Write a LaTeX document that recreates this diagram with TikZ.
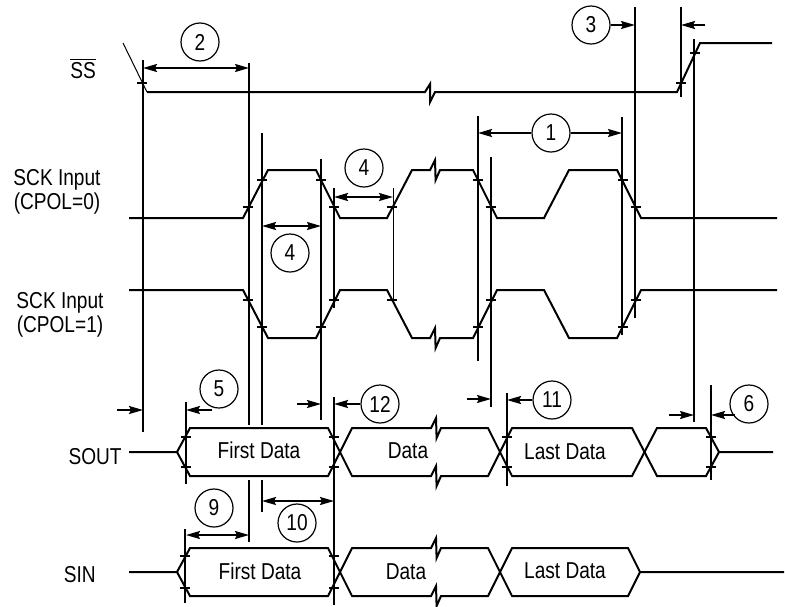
\documentclass[tikz,border=0pt]{standalone}
\usepackage{fontspec}
\setmainfont{Liberation Sans}[FakeStretch=0.83]
\usetikzlibrary{arrows.meta}

\begin{document}
\begin{tikzpicture}[x=0.5pt, y=-0.5pt,
        every node/.style={font=\fontsize{11.5}{10.7}\selectfont, inner sep=0pt},
        wave/.style={line width=1pt},
        guide/.style={line width=1.05pt},
        thinguide/.style={line width=0.5pt},
        tick/.style={line width=0.9pt},
        dim/.style={line width=0.95pt, {Stealth[length=7pt,width=4pt,inset=1pt]}-{Stealth[length=7pt,width=4pt,inset=1pt]}},
        ptr/.style={line width=0.95pt, -{Stealth[length=7pt,width=4pt,inset=1pt]}},
        tag/.style={circle, draw, line width=0.6pt, minimum size=19pt}]
    \useasboundingbox (0,0) rectangle (785,606);

    % signal names
    \node[anchor=base] (ss) at (83,78) {$\overline{\mbox{SS}}$};
    \node[align=center] (sck0) at (57,192) {SCK Input\\(CPOL=0)};
    \node[align=center] (sck1) at (60,315) {SCK Input\\(CPOL=1)};
    \node[anchor=base east] (sout) at (122,464) {SOUT};
    \node[anchor=base east] (sin) at (96,582) {SIN};

    % SS
    \draw[thinguide] (123,43) -- (147,92);
    \draw[wave] (147,92) -- (425,92) -- ++(5,-8) -- ++(0,18) -- ++(5,-10) -- (677,92) -- (700,43) -- (772,43);

    % SCK, CPOL=0 and CPOL=1
    \draw[wave] (129,218) -- (243,218) -- (268,170) -- (316,170) -- (340,218) -- (387,218) -- (412,170)
        -- (430,170) -- ++(5,-10) -- ++(0.6,20) -- ++(4.4,-10) -- (473,170) -- (497,218) -- (544,218)
        -- (569,170) -- (617,170) -- (641,218) -- (777,218);
    \draw[wave] (129,290) -- (243,290) -- (268,338) -- (316,338) -- (340,290) -- (387,290) -- (412,338)
        -- (430,338) -- ++(5,-10) -- ++(0.6,20) -- ++(4.4,-10) -- (473,338) -- (497,290) -- (544,290)
        -- (569,338) -- (617,338) -- (641,290) -- (777,290);

    % SOUT
    \draw[wave] (129,452) -- (177,452) -- (190,428) -- (328,428) -- (352,476)
        -- (431,476) -- ++(5,-10) -- ++(0.6,20) -- ++(4.4,-10) -- (488,476) -- (512,428) -- (632,428)
        -- (657,476) -- (706,476) -- (719,452) -- (773,452);
    \draw[wave] (177,452) -- (190,476) -- (328,476) -- (352,428)
        -- (431,428) -- ++(5,-10) -- ++(0.6,20) -- ++(4.4,-10) -- (488,428) -- (512,476) -- (632,476)
        -- (657,428) -- (706,428) -- (719,452);
    \node[anchor=base] (sout1) at (259,458) {First Data};
    \node[anchor=base] (sout2) at (408,458) {Data};
    \node[anchor=base] (sout3) at (565,459) {Last Data};

    % SIN
    \draw[wave] (129,572) -- (177,572) -- (190,548) -- (328,548) -- (352,596)
        -- (431,596) -- ++(5,-10) -- ++(0.6,20) -- ++(4.4,-10) -- (488,596) -- (512,548) -- (628,548)
        -- (640,572) -- (784,572);
    \draw[wave] (177,572) -- (190,596) -- (328,596) -- (352,548)
        -- (431,548) -- ++(5,-10) -- ++(0.6,20) -- ++(4.4,-10) -- (488,548) -- (512,596) -- (628,596)
        -- (640,572);
    \node[anchor=base] (sin1) at (260,579) {First Data};
    \node[anchor=base] (sin2) at (406,579) {Data};
    \node[anchor=base] (sin3) at (565,578) {Last Data};

    % timing lines
    \foreach \x/\ya/\yb in {143/60/432, 249/63/425, 249/480/542, 262/133/425, 262/480/512,
            321/159/420, 334/188/308, 334/397/605, 478/116/361, 491/157/407, 507/393/486,
            622/117/335, 635/7/318, 681/7/97, 694/39/422, 711/385/480, 186/402/484, 185/529/603}
        \draw[guide] (\x,\ya) -- (\x,\yb);
    \draw[thinguide] (393,188) -- (393,300);

    % crossing marks
    \foreach \x/\y in {142/83, 681/83, 695/53,
            248/207, 262/180, 321/180, 334/207, 392/207, 478/180, 491/207, 623/180, 636/207,
            248/300, 262/327, 321/327, 334/300, 392/300, 478/327, 491/300, 623/327, 636/300,
            186/437, 186/467, 334/437, 334/467, 507/437, 507/467, 711/437, 711/467,
            185/556, 185/588, 334/556, 334/588}
        \draw[tick] (\x,\y) +(-5,0) -- +(5,0);

    % timing numbers
    \node[tag] (t2) at (200,42) {2};
    \node[tag] (t3) at (591,25) {3};
    \node[tag] (t1) at (551,133) {1};
    \node[tag] (t4a) at (290,253) {4};
    \node[tag] (t4b) at (364,168) {4};
    \node[tag] (t5) at (219,389) {5};
    \node[tag] (t12) at (380,404) {12};
    \node[tag] (t11) at (552,400) {11};
    \node[tag] (t6) at (749,404) {6};
    \node[tag] (t9) at (214,508) {9};
    \node[tag] (t10) at (297,523) {10};

    \draw[dim] (143,68) -- (249,68);
    \draw[ptr] (t3.east) -- (635,25);
    \draw[ptr] (705,25) -- (681,25);
    \draw[ptr] (t1.west) -- (478,133);
    \draw[ptr] (t1.east) -- (622,133);
    \draw[dim] (262,226) -- (321,226);
    \draw[dim] (334,197) -- (393,197);
    \draw[ptr] (117,410) -- (143,410);
    \draw[ptr] (212,410) -- (186,410);
    \draw[ptr] (297,404) -- (321,404);
    \draw[ptr] (t12.west) -- (334,404);
    \draw[ptr] (467,399) -- (491,399);
    \draw[ptr] (t11.west) -- (507,400);
    \draw[ptr] (669,415) -- (694,415);
    \draw[ptr] (735,415) -- (711,415);
    \draw[dim] (186,535) -- (249,535);
    \draw[dim] (262,501) -- (334,501);
\end{tikzpicture}
\end{document}
